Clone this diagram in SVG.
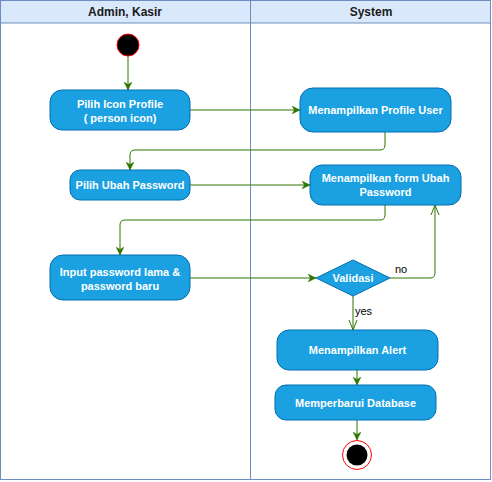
<svg xmlns="http://www.w3.org/2000/svg" width="492" height="482" viewBox="0 0 492 482">
<style>
.lane{fill:#ffffff;stroke:#6c8ebf;stroke-width:1}
.hdr{fill:#dae8fc;stroke:#6c8ebf;stroke-width:1}
.ht{font-family:"Liberation Sans",Arial,sans-serif;font-size:12px;font-weight:bold;fill:#1a1a1a;text-anchor:middle}
.act{fill:#1ba1e2;stroke:#006eaf;stroke-width:1}
.t{font-family:"Liberation Sans",Arial,sans-serif;font-size:11px;font-weight:bold;fill:#ffffff;text-anchor:middle}
.lbl{font-family:"Liberation Sans",Arial,sans-serif;font-size:11px;fill:#000000}
.e{fill:none;stroke:#2d7600;stroke-width:1}
.ef{marker-end:url(#arr)}
.eo{marker-end:url(#open)}
</style>
<defs>
<marker id="arr" viewBox="0 0 10 10" refX="10" refY="5" markerWidth="8" markerHeight="8" orient="auto" markerUnits="userSpaceOnUse">
<path d="M0,0 L10,5 L0,10 L3,5 z" fill="#2d7600" stroke="#2d7600" stroke-width="0.5"/>
</marker>
<marker id="open" viewBox="0 0 10 10" refX="10" refY="5" markerWidth="10" markerHeight="10" orient="auto" markerUnits="userSpaceOnUse">
<path d="M0,1 L10,5 L0,9" fill="none" stroke="#2d7600" stroke-width="1"/>
</marker>
</defs>
<g id="swimlanes">
<rect class="lane" x="0.5" y="0.5" width="490" height="479"/>
<rect class="hdr" x="0.5" y="0.5" width="250" height="22.5"/>
<rect class="hdr" x="250.5" y="0.5" width="240" height="22.5"/>
<line x1="250.5" y1="23" x2="250.5" y2="479.5" stroke="#6c8ebf"/>
<text class="ht" x="125" y="16">Admin, Kasir</text>
<text class="ht" x="371" y="16">System</text>
</g>
<g id="connectors">
<path class="e ef" d="M128,56 V90"/>
<path class="e ef" d="M190,110 H300"/>
<path class="e ef" d="M385,132 V145 Q385,150 380,150 H135 Q130,150 130,155 V170"/>
<path class="e ef" d="M190,185 H310"/>
<path class="e ef" d="M385,205 V215 Q385,220 380,220 H125 Q120,220 120,225 V255"/>
<path class="e ef" d="M190,278 H316"/>
<path class="e eo" d="M390,278 H430 Q435,278 435,273 V205"/>
<path class="e eo" d="M353,296 V330"/>
<path class="e ef" d="M357,370 V385"/>
<path class="e ef" d="M357,420 V440"/>
<text class="lbl" x="395" y="273">no</text>
<text class="lbl" x="355" y="315">yes</text>
</g>
<g id="start">
<circle cx="128" cy="45" r="11" fill="#000000" stroke="#ff0000" stroke-width="1"/>
</g>
<g id="pilih-icon">
<rect class="act" x="50" y="90" width="140" height="40" rx="12"/>
<text class="t" x="120" y="107.5">Pilih Icon Profile</text>
<text class="t" x="120" y="121.5">( person icon)</text>
</g>
<g id="profile-user">
<rect class="act" x="300" y="88" width="151" height="44" rx="13"/>
<text class="t" x="375.5" y="114">Menampilkan Profile User</text>
</g>
<g id="pilih-ubah">
<rect class="act" x="70" y="170" width="120" height="30" rx="10"/>
<text class="t" x="130" y="189">Pilih Ubah Password</text>
</g>
<g id="form-ubah">
<rect class="act" x="310" y="165" width="151" height="40" rx="12"/>
<text class="t" x="385.5" y="181.5">Menampilkan form Ubah</text>
<text class="t" x="385.5" y="196">Password</text>
</g>
<g id="input-password">
<rect class="act" x="50" y="255" width="140" height="45" rx="13"/>
<text class="t" x="120" y="275.5">Input password lama &amp;</text>
<text class="t" x="120" y="290">password baru</text>
</g>
<g id="validasi">
<path class="act" d="M316,278 L353,260 L390,278 L353,296 Z" stroke-linejoin="round"/>
<text class="t" x="353" y="282">Validasi</text>
</g>
<g id="alert">
<rect class="act" x="277" y="330" width="161" height="40" rx="12"/>
<text class="t" x="357.5" y="354">Menampilkan Alert</text>
</g>
<g id="database">
<rect class="act" x="275" y="385" width="161" height="35" rx="11"/>
<text class="t" x="355.5" y="406.5">Memperbarui Database</text>
</g>
<g id="end">
<circle cx="357" cy="455" r="14.5" fill="#ffffff" stroke="#ff0000" stroke-width="1"/>
<circle cx="357" cy="455" r="10.5" fill="#000000"/>
</g>
</svg>
